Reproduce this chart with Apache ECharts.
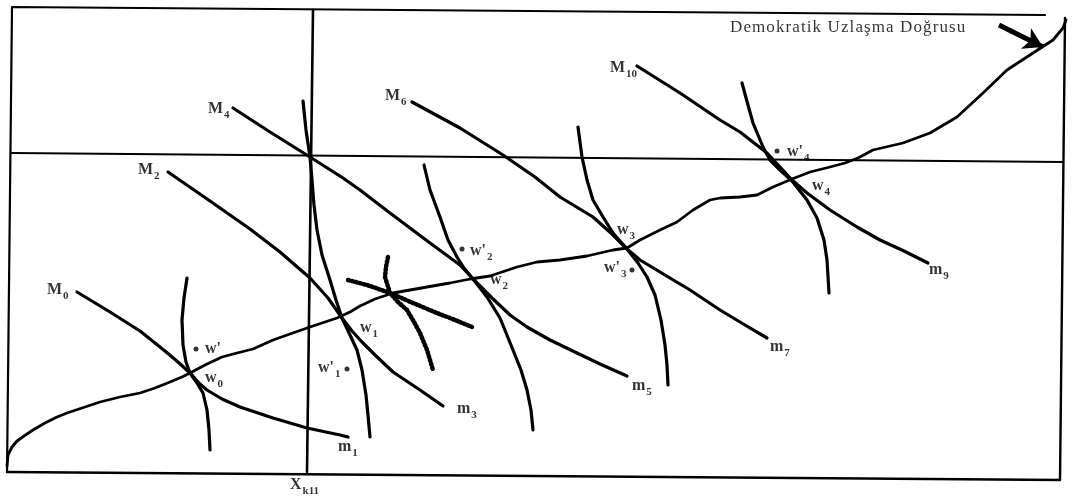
<!DOCTYPE html>
<html>
<head>
<meta charset="utf-8">
<script src="https://cdn.jsdelivr.net/npm/echarts@6/dist/echarts.min.js"></script>
<style>
html,body{margin:0;padding:0;background:#fff;}
#main{width:1077px;height:497px;}
</style>
</head>
<body>
<div id="main"></div>
<script>
// ---- diagram data (x to the right, y downward) ----
var frameA = [[7,472],[12,7],[1045,15]];
var frameB = [[1065,18],[1060,480],[7,472]];
var hLine = [[12,153],[1063,162]];
var vLine = [[313,10],[307,472]];

var demoLine = [[7,466],[8,455],[12,447],[17,441],[24,436],[33,430],[45,423],[57,417],[67,413],[85,407],[100,402],[120,397],[140,393],[155,388],[170,382],[182,377],[190,373],[205,365],[222,357],[237,353],[253,349],[273,340],[290,334],[310,327],[325,322],[337,318],[350,312],[360,306],[375,299],[393,293],[410,290],[427,287],[450,283],[470,279],[490,276],[505,271],[517,267],[537,262],[560,260],[587,256],[600,253],[613,250],[627,248],[640,240],[660,230],[677,222],[693,210],[710,200],[720,198],[740,197],[757,195],[773,187],[792,179],[810,172],[830,167],[845,163],[858,158],[873,150],[903,143],[930,133],[957,117],[983,93],[1007,70],[1033,53],[1053,40],[1063,28],[1066,20]];

var curveM0 = [[77,292],[110,312],[140,331],[165,351],[178,362],[190,373],[200,384],[207,390],[222,399],[240,407],[273,418],[307,428],[340,435],[348,437]];
var curveM2 = [[168,172],[210,201],[250,229],[280,252],[310,278],[328,298],[342,318],[352,331],[362,342],[375,355],[393,372],[420,390],[443,406]];
var curveM4 = [[233,108],[270,132],[310,157],[343,178],[360,190],[390,213],[430,243],[460,265],[473,279],[492,298],[510,315],[527,327],[550,340],[577,353],[600,364],[627,376]];
var curveM6 = [[412,102],[460,128],[503,155],[535,177],[560,197],[593,217],[612,234],[627,249],[640,260],[660,272],[690,290],[720,310],[745,325],[767,338]];
var curveM10 = [[637,66],[680,93],[720,120],[740,132],[767,153],[780,167],[792,180],[807,193],[830,210],[857,227],[880,240],[904,251],[928,263]];

var steep0 = [[187,278],[184,298],[182,320],[183,345],[186,362],[190,373],[197,383],[203,393],[207,410],[209,430],[210,450]];
var steep1 = [[303,101],[306,130],[310,157],[312,180],[314,205],[317,230],[322,255],[330,280],[336,300],[342,318],[350,335],[357,350],[362,370],[366,395],[368,415],[370,437]];
var steep2 = [[424,165],[430,190],[440,217],[448,240],[457,257],[464,268],[473,279],[487,297],[500,318],[513,350],[521,370],[527,390],[531,410],[533,430]];
var steep3 = [[578,127],[582,157],[587,180],[593,200],[603,217],[613,233],[627,249],[638,263],[647,277],[655,295],[661,320],[665,345],[667,365],[668,385]];
var steep4 = [[742,83],[748,105],[753,123],[763,147],[770,160],[780,170],[792,181],[807,200],[817,218],[824,240],[827,260],[829,293]];

var dotted1 = [[388,257],[386,267],[385,277],[390,293],[398,302],[407,310],[414,322],[420,333],[427,350],[433,370]];
var dotted2 = [[348,280],[367,285],[390,293],[413,303],[437,313],[455,320],[472,327]];

var primePoints = [[196,349],[347,369],[462,249],[632,270],[777,151]];

var arrowFrom = [999,25];
var arrowTo = [1043,47];

// label: [x, y, main text, subscript]
var labels = [
  [47,290,'M','0'],[138,170,'M','2'],[208,109,'M','4'],[385,96,'M','6'],[610,68,'M','10'],
  [338,447,'m','1'],[457,409,'m','3'],[632,386,'m','5'],[770,347,'m','7'],[929,270,'m','9'],
  [205,378,'w','0'],[360,328,'w','1'],[490,280,'w','2'],[617,230,'w','3'],[812,186,'w','4'],
  [205,349,"w'",''],[318,368,"w'",'1'],[470,251,"w'",'2'],[604,268,"w'",'3'],[787,152,"w'",'4'],
  [290,485,'X','k11']
];
var titleText = [730,28,'Demokratik Uzlaşma Doğrusu'];

// ---- chart ----
var chart = echarts.init(document.getElementById('main'));
var FONT = "'Liberation Serif','DejaVu Serif',serif";

function lineSeries(name, data, width, extra) {
  var s = {
    name: name, type: 'line', data: data, symbol: 'none', silent: true,
    lineStyle: {color: '#000', width: width, cap: 'round', join: 'round'},
    z: 3
  };
  if (extra) { for (var k in extra) s[k] = extra[k]; }
  return s;
}

var dotStyle = {color: '#000', width: 4.5, type: [1.5, 2.5], cap: 'round', join: 'round'};

var series = [
  lineSeries('frameA', frameA, 2.2),
  lineSeries('frameB', frameB, 2.4),
  lineSeries('hLine', hLine, 2),
  lineSeries('vLine', vLine, 2.6),
  lineSeries('demo', demoLine, 2.8),
  lineSeries('M0', curveM0, 3.2),
  lineSeries('M2', curveM2, 3.2),
  lineSeries('M4', curveM4, 3.2),
  lineSeries('M6', curveM6, 3.2),
  lineSeries('M10', curveM10, 3.2),
  lineSeries('s0', steep0, 3.2),
  lineSeries('s1', steep1, 3.2),
  lineSeries('s2', steep2, 3.2),
  lineSeries('s3', steep3, 3.2),
  lineSeries('s4', steep4, 3.2),
  lineSeries('d1', dotted1, 4.5, {lineStyle: dotStyle}),
  lineSeries('d2', dotted2, 4.5, {lineStyle: dotStyle}),
  {
    name: 'arrow', type: 'line', data: [], symbol: 'none', silent: true,
    markLine: {
      silent: true, animation: false,
      symbol: ['none', 'arrow'], symbolSize: [17, 19],
      label: {show: false},
      lineStyle: {color: '#000', width: 5, type: 'solid'},
      data: [[{coord: arrowFrom}, {coord: arrowTo}]]
    }
  },
  {
    name: 'primes', type: 'scatter', data: primePoints, symbol: 'circle', symbolSize: 5,
    itemStyle: {color: '#000'}, silent: true, z: 5
  },
  {
    name: 'labels', type: 'scatter', symbolSize: 1, itemStyle: {color: 'rgba(0,0,0,0)'}, silent: true, z: 6,
    data: labels.map(function (l) { return [l[0], l[1]]; }),
    label: {
      show: true, position: 'inside', align: 'left', verticalAlign: 'middle',
      formatter: function (p) {
        var d = labels[p.dataIndex];
        return '{a|' + d[2] + '}' + (d[3] ? '{b|' + d[3] + '}' : '');
      },
      rich: {
        a: {fontFamily: FONT, fontSize: 16, fontWeight: 'bold', color: '#000', lineHeight: 16, verticalAlign: 'middle'},
        b: {fontFamily: FONT, fontSize: 11, fontWeight: 'bold', color: '#000', lineHeight: 11, verticalAlign: 'middle', padding: [13, 0, 0, 1]}
      }
    }
  },
  {
    name: 'title', type: 'scatter', symbolSize: 1, itemStyle: {color: 'rgba(0,0,0,0)'}, silent: true, z: 6,
    data: [[titleText[0], titleText[1]]],
    label: {
      show: true, position: 'inside', align: 'left', verticalAlign: 'middle',
      formatter: function () {
        return titleText[2].split('').map(function (c) { return '{c|' + c + '}'; }).join('');
      },
      rich: {
        c: {fontFamily: FONT, fontSize: 17, color: '#000', padding: [0, 1.1, 0, 0]}
      }
    }
  }
];

chart.setOption({
  animation: false,
  backgroundColor: '#fff',
  grid: {left: 0, right: 0, top: 0, bottom: 0},
  xAxis: {type: 'value', min: 0, max: 1077, show: false},
  yAxis: {type: 'value', min: 0, max: 497, inverse: true, show: false},
  series: series
});
</script>
</body>
</html>
